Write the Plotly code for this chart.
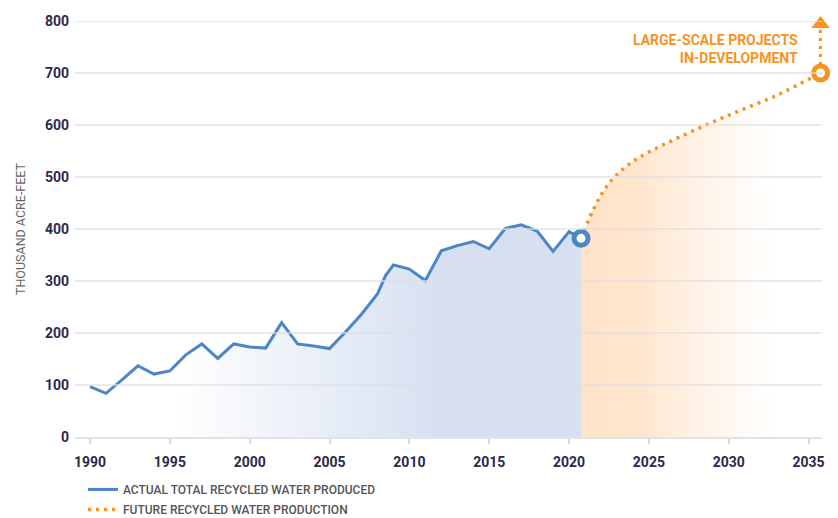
import plotly.graph_objects as go

# ---------------- data ----------------
actual_years = [1990, 1991, 1992, 1993, 1994, 1995, 1996, 1997, 1998, 1999,
                2000, 2001, 2002, 2003, 2004, 2005, 2006, 2007, 2008, 2008.5,
                2009, 2010, 2011, 2012, 2013, 2014, 2015, 2016, 2017, 2018,
                2019, 2020, 2020.75]
actual_values = [97, 84, 110, 137, 121, 127, 158, 179, 151, 179,
                 173, 171, 220, 179, 175, 170, 202, 236, 275, 310,
                 331, 323, 301, 358, 368, 376, 362, 401, 408, 396,
                 357, 395, 382]

future_years = [2020.75, 2021.5, 2022.2, 2023, 2024, 2025, 2027, 2030, 2033, 2035.75]
future_values = [382, 436, 475, 505, 530, 548, 578, 619, 657, 700]

arrow_years = [2035.75, 2035.75]
arrow_values = [700, 794]

x_ticks = [1990, 1995, 2000, 2005, 2010, 2015, 2020, 2025, 2030, 2035]
y_ticks = [0, 100, 200, 300, 400, 500, 600, 700, 800]

annotation_text = "LARGE-SCALE PROJECTS<br>IN-DEVELOPMENT"
legend_actual = "ACTUAL TOTAL RECYCLED WATER PRODUCED"
legend_future = "FUTURE RECYCLED WATER PRODUCTION"
y_title = "THOUSAND ACRE-FEET"

# ---------------- styles ----------------
BLUE = "#4a86c8"
ORANGE = "#f7931e"
NAVY = "#2b2a4c"
FONT = "Roboto"

fig = go.Figure()

# blue gradient fill under actual line
fig.add_trace(go.Scatter(
    x=actual_years, y=actual_values, mode="lines", line=dict(width=0),
    fill="tozeroy",
    fillgradient=dict(type="horizontal", start=actual_years[0], stop=actual_years[-1],
                      colorscale=[[0, "rgba(214,224,241,0)"], [0.17, "rgba(214,224,241,0)"],
                                  [0.72, "rgba(214,224,241,1)"], [1, "rgba(214,224,241,1)"]]),
    showlegend=False, hoverinfo="skip"))

# orange gradient fill under future line
fig.add_trace(go.Scatter(
    x=future_years, y=future_values, mode="lines", line=dict(width=0, shape="spline"),
    fill="tozeroy",
    fillgradient=dict(type="horizontal", start=future_years[0], stop=2033,
                      colorscale=[[0, "rgba(254,227,200,1)"], [0.3, "rgba(254,230,206,1)"],
                                  [1, "rgba(254,236,218,0)"]]),
    showlegend=False, hoverinfo="skip"))

# future dotted line
fig.add_trace(go.Scatter(
    x=future_years, y=future_values, mode="lines", name=legend_future,
    line=dict(color=ORANGE, width=3.5, dash="3px,5px", shape="spline"),
    legend="legend2", cliponaxis=False))

# arrow up from last future point
fig.add_trace(go.Scatter(
    x=arrow_years, y=arrow_values, mode="lines",
    line=dict(color=ORANGE, width=3.5, dash="3px,5px"),
    showlegend=False, cliponaxis=False))
fig.add_trace(go.Scatter(
    x=arrow_years[-1:], y=arrow_values[-1:], mode="markers",
    marker=dict(symbol="triangle-up", size=16, color=ORANGE),
    showlegend=False, cliponaxis=False))

# actual line
fig.add_trace(go.Scatter(
    x=actual_years, y=actual_values, mode="lines", name=legend_actual,
    line=dict(color=BLUE, width=3), legend="legend", cliponaxis=False))

# end markers
fig.add_trace(go.Scatter(
    x=actual_years[-1:], y=actual_values[-1:], mode="markers",
    marker=dict(symbol="circle", size=14, color="white", line=dict(color=BLUE, width=5)),
    showlegend=False, cliponaxis=False))
fig.add_trace(go.Scatter(
    x=future_years[-1:], y=future_values[-1:], mode="markers",
    marker=dict(symbol="circle", size=14, color="white", line=dict(color=ORANGE, width=5)),
    showlegend=False, cliponaxis=False))

# gridlines drawn above the fills
for v in y_ticks[1:]:
    fig.add_shape(type="line", xref="paper", x0=0, x1=1, yref="y", y0=v, y1=v,
                  line=dict(color="rgba(222,222,228,0.85)", width=1.5), layer="above")

fig.add_annotation(
    x=2034.45, y=746, xref="x", yref="y", text=annotation_text, showarrow=False,
    xanchor="right", yanchor="middle", align="right",
    font=dict(family=FONT, size=14, color=ORANGE, weight="bold"))

legend_style = dict(
    bgcolor="rgba(0,0,0,0)", borderwidth=0, xanchor="left", yanchor="middle",
    itemwidth=30, font=dict(family=FONT, size=12, color="#555555", weight=500))

# the page body keeps its default 8px margin, so the figure is sized to fit the window
fig.update_layout(
    width=830, height=510,
    margin=dict(l=67, r=16, t=13, b=81, autoexpand=False),
    paper_bgcolor="white", plot_bgcolor="white",
    font=dict(family=FONT),
    legend=dict(x=0.0107, y=-0.126, **legend_style),
    legend2=dict(x=0.0107, y=-0.174, **legend_style),
    xaxis=dict(
        range=[1989.06, 2035.84], tickvals=x_ticks, showgrid=False, zeroline=False,
        showline=True, linecolor="#e3e3e6", linewidth=2, automargin=False,
        ticks="outside", ticklen=5, tickwidth=1.5, tickcolor="#d8d8dc",
        ticklabelstandoff=6, layer="above traces",
        tickfont=dict(family=FONT, size=14, color=NAVY, weight="bold")),
    yaxis=dict(
        range=[0, 800], tickvals=y_ticks, showgrid=False, zeroline=False,
        showline=False, ticks="", ticklabelstandoff=5, automargin=False,
        tickfont=dict(family=FONT, size=14, color=NAVY, weight="bold"),
        title=dict(text=y_title, standoff=16,
                   font=dict(family=FONT, size=12.5, color="#666666"))),
)

fig.write_html("out.html")
